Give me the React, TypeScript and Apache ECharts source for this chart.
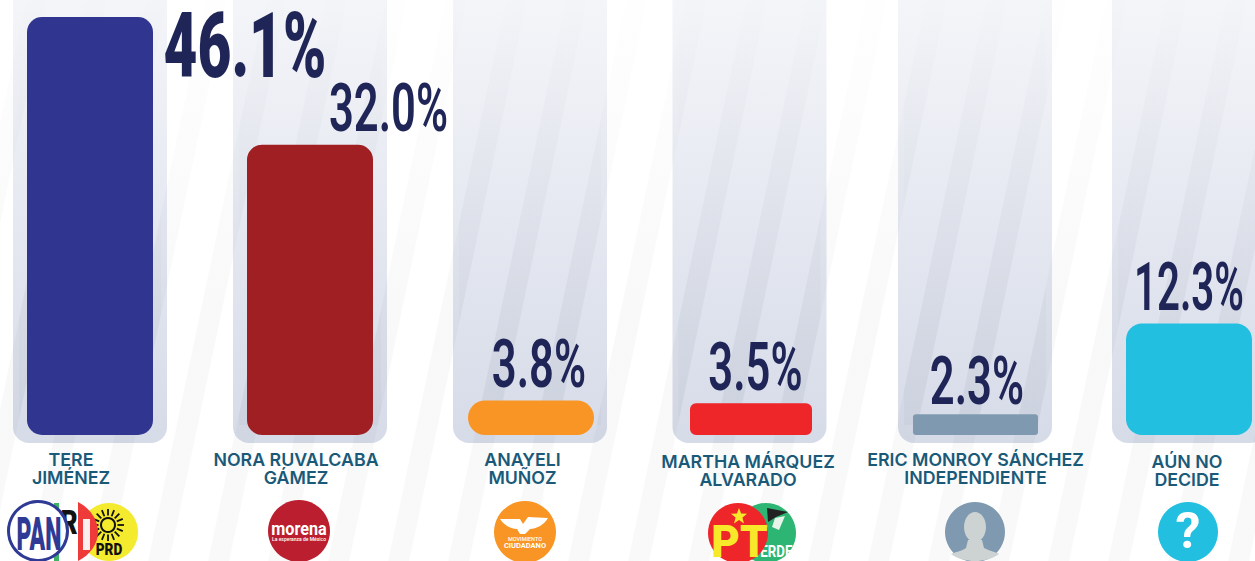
import React, { useEffect, useRef } from "react";
import * as echarts from "echarts";

const categories = [
  "TERE\nJIMÉNEZ",
  "NORA RUVALCABA\nGÁMEZ",
  "ANAYELI\nMUÑOZ",
  "MARTHA MÁRQUEZ\nALVARADO",
  "ERIC MONROY SÁNCHEZ\nINDEPENDIENTE",
  "AÚN NO\nDECIDE",
];
const values = [46.1, 32.0, 3.8, 3.5, 2.3, 12.3];
const barColors = ["#303590", "#9f1f23", "#f99524", "#ee2529", "#7f9ab0", "#22bfe0"];

// layout of the six columns, in pixels
const barCenters = [90, 310, 531, 751, 975.5, 1189];
const barWidths = [126, 126, 126, 122, 125, 126];
const barRadii = [15, 15, 17, 6, 3, 16];
const panelLefts = [13, 233, 453, 672.5, 898, 1112];
const nameShifts = [-19, -14, -8.5, -3, 0, -2];
const nameMargins = [15, 15, 15, 17, 15, 17];
const labelLook = [
  { dx: 155, dy: 30, size: 90, weight: 900, sx: 0.65 },
  { dx: 78.5, dy: -36, size: 67, weight: 600, sx: 0.65 },
  { dx: 8, dy: -36.5, size: 67, weight: 600, sx: 0.65 },
  { dx: 4.5, dy: -36, size: 67, weight: 600, sx: 0.65 },
  { dx: 1.5, dy: -33, size: 67, weight: 600, sx: 0.65 },
  { dx: 0, dy: -36.5, size: 67, weight: 600, sx: 0.6 },
];

const BASE_Y = 435;
const TOP_Y = 17;
const INK = "#1f2557";
const NAME_INK = "#1a5a78";
const FONT = "Roboto";

echarts.graphic.registerShape(
  "priRed",
  echarts.graphic.extendPath("M78 502 C90 508 98 520 98 532 C98 544 90 555 78 561 Z", {})
);
echarts.graphic.registerShape(
  "mcWings",
  echarts.graphic.extendPath(
    "M500 519 L520 519 L523 524 L528 517 L548 518 C544 525 536 529 530 529 L525 534 L520 534 L517 529 C510 529 504 525 500 519 Z",
    {}
  )
);
echarts.graphic.registerShape(
  "avatarBody",
  echarts.graphic.extendPath(
    "M968 540 L982 540 L984 548 C990 551 996 552 999 554 C992 559 984 561 975 561 C966 561 958 559 951 554 C955 552 962 551 966 548 Z",
    {}
  )
);

const txt = (
  text: string,
  x: number,
  y: number,
  size: number,
  fill: string,
  weight: number,
  scaleX = 1
) => ({
  type: "text",
  x,
  y,
  scaleX,
  z: 4,
  silent: true,
  style: {
    text,
    fill,
    fontFamily: FONT,
    fontSize: size,
    fontWeight: weight,
    lineHeight: Math.round(size * 0.72),
    align: "center",
    verticalAlign: "middle",
  },
});
const disc = (cx: number, cy: number, r: number, fill: string, extra: any = {}) => ({
  type: "circle",
  z: 4,
  silent: true,
  shape: { cx, cy, r },
  style: { fill, ...extra },
});

function clipX(points: number[][], limit: number, keepRight: boolean) {
  const inside = (p: number[]) => (keepRight ? p[0] >= limit : p[0] <= limit);
  const out: number[][] = [];
  points.forEach((p, i) => {
    const q = points[(i + 1) % points.length];
    if (inside(p)) out.push(p);
    if (inside(p) !== inside(q)) {
      const t = (limit - p[0]) / (q[0] - p[0]);
      out.push([limit, p[1] + t * (q[1] - p[1])]);
    }
  });
  return out;
}

function backdrop() {
  const out: any[] = [];
  panelLefts.forEach((left) => {
    out.push({
      type: "rect",
      z: 0,
      silent: true,
      shape: { x: left, y: -30, width: 154, height: 473, r: [0, 0, 16, 16] },
      style: {
        fill: new echarts.graphic.LinearGradient(0, 0, 0, 1, [
          { offset: 0, color: "#f6f7fa" },
          { offset: 1, color: "#d6dbe8" },
        ]),
      },
    });
  });
  const faint = new echarts.graphic.LinearGradient(0, 0, 0, 1, [
    { offset: 0, color: "rgba(40,50,60,0.004)" },
    { offset: 0.6, color: "rgba(40,50,60,0.032)" },
    { offset: 1, color: "rgba(40,50,60,0.03)" },
  ]);
  for (let k = -9; k <= 13; k++) {
    const top = 566 + 60 * k;
    const at = (y: number) => top - 0.21 * y;
    out.push({
      type: "polygon",
      z: 0,
      silent: true,
      shape: {
        points: [
          [at(0), 0],
          [at(0) + 21, 0],
          [at(561) + 21, 561],
          [at(561), 561],
        ],
      },
      style: { fill: faint },
    });
    panelLefts.forEach((left) => {
      let pts = [
        [at(0), 0],
        [at(0) + 21, 0],
        [at(425) + 21, 425],
        [at(425), 425],
      ];
      pts = clipX(pts, left + 6, true);
      if (pts.length) pts = clipX(pts, left + 148, false);
      if (pts.length < 3) return;
      const ys = pts.map((p) => p[1]);
      const y0 = Math.min(...ys);
      const y1 = Math.max(...ys);
      const alphaAt = (y: number) => (0.03 * y) / 425;
      out.push({
        type: "polygon",
        z: 0,
        silent: true,
        shape: { points: pts },
        style: {
          fill: new echarts.graphic.LinearGradient(0, 0, 0, 1, [
            { offset: 0, color: `rgba(40,50,90,${alphaAt(y0).toFixed(4)})` },
            { offset: 1, color: `rgba(40,50,90,${alphaAt(y1).toFixed(4)})` },
          ]),
        },
      });
    });
  }
  return out;
}

function logos() {
  const sun: any[] = [];
  for (let i = 0; i < 16; i++) {
    const a = (i / 16) * Math.PI * 2;
    sun.push({
      type: "line",
      z: 4,
      silent: true,
      shape: {
        x1: 108 + Math.cos(a) * 9.5,
        y1: 525 + Math.sin(a) * 9.5,
        x2: 108 + Math.cos(a) * 16,
        y2: 525 + Math.sin(a) * 16,
      },
      style: { stroke: "#111", lineWidth: 1.8 },
    });
  }
  return [
    // PAN · PRI · PRD
    disc(109, 532, 29, "#f4ea2e"),
    ...sun,
    disc(108, 525, 7, "none", { stroke: "#111", lineWidth: 2 }),
    txt("PRD", 109, 549, 17, "#111", 900, 0.8),
    { type: "rect", z: 4, silent: true, shape: { x: 54, y: 503, width: 5, height: 58 }, style: { fill: "#3fb265" } },
    txt("R", 69, 522, 33, "#111", 900, 0.8),
    { type: "priRed", z: 4, silent: true, style: { fill: "#ee3b3a" } },
    { type: "rect", z: 4, silent: true, shape: { x: 83, y: 519, width: 7, height: 31 }, style: { fill: "#fbeeee" } },
    disc(38, 531, 29.5, "#ffffff", { stroke: "#2e3a94", lineWidth: 3 }),
    txt("PAN", 39, 534, 46, "#2e3a94", 900, 0.5),
    // morena
    disc(299, 531, 31, "#bb1f2f"),
    txt("morena", 299, 529, 18, "#ffffff", 700, 0.9),
    txt("La esperanza de México", 299, 538.5, 5, "#ffffff", 500),
    // Movimiento Ciudadano
    disc(525, 532, 31, "#f99524"),
    { type: "mcWings", z: 4, silent: true, style: { fill: "#ffffff" } },
    txt("MOVIMIENTO", 525, 539, 5.5, "#ffffff", 500),
    txt("CIUDADANO", 525, 545.5, 7.5, "#ffffff", 700),
    // Verde · PT
    disc(766, 533, 30, "#2db573"),
    { type: "polygon", z: 4, silent: true, shape: { points: [[767, 508], [788, 512], [776, 517], [768, 522]] }, style: { fill: "#222" } },
    { type: "polygon", z: 4, silent: true, shape: { points: [[775, 518], [785, 516], [779, 530], [772, 527]] }, style: { fill: "#e6f4ea" } },
    txt("VERDE", 772, 551, 17, "#ffffff", 700, 0.78),
    disc(738, 533, 30, "#ee2529"),
    {
      type: "polygon",
      z: 4,
      silent: true,
      shape: {
        points: Array.from({ length: 10 }, (_, i) => {
          const r = i % 2 ? 3.6 : 8.5;
          const a = -Math.PI / 2 + (i * Math.PI) / 5;
          return [739 + r * Math.cos(a), 516.5 + r * Math.sin(a)];
        }),
      },
      style: { fill: "#f7e92a" },
    },
    txt("PT", 739.5, 542, 44, "#f7e92a", 900, 1),
    // independiente
    disc(975, 532, 30, "#7f9ab0"),
    { type: "ellipse", z: 4, silent: true, shape: { cx: 975, cy: 527, rx: 11, ry: 15 }, style: { fill: "#cdd2d2" } },
    { type: "avatarBody", z: 4, silent: true, style: { fill: "#cdd2d2" } },
    // no decide
    disc(1188, 532, 30, "#22bfe0"),
    txt("?", 1188, 531, 50, "#ffffff", 700),
  ];
}

export default function App() {
  const ref = useRef<HTMLDivElement>(null);
  useEffect(() => {
    document.body.style.margin = "0";
    const chart = echarts.init(ref.current!, null, { renderer: "svg" });
    const grid: any[] = [];
    const xAxis: any[] = [];
    const yAxis: any[] = [];
    const series: any[] = [];
    categories.forEach((name, i) => {
      grid.push({
        left: barCenters[i] - 65,
        width: 130,
        top: TOP_Y,
        height: BASE_Y - TOP_Y,
      });
      xAxis.push({
        type: "category",
        gridIndex: i,
        data: [name],
        axisLine: { show: false },
        axisTick: { show: false },
        axisLabel: {
          interval: 0,
          margin: nameMargins[i],
          color: NAME_INK,
          fontFamily: "Inter",
          fontWeight: 600,
          fontSize: 17.8,
          lineHeight: 18.5,
          padding:
            nameShifts[i] < 0 ? [0, -2 * nameShifts[i], 0, 0] : [0, 0, 0, 0],
        },
      });
      yAxis.push({ type: "value", gridIndex: i, min: 0, max: 46.1, show: false });
      series.push({
        type: "bar",
        xAxisIndex: i,
        yAxisIndex: i,
        barWidth: barWidths[i],
        silent: true,
        itemStyle: { color: barColors[i], borderRadius: barRadii[i] },
        data: [values[i]],
      });
      const look = labelLook[i];
      series.push({
        type: "custom",
        xAxisIndex: i,
        yAxisIndex: i,
        silent: true,
        z: 5,
        encode: { x: 0, y: 1 },
        data: [[0, values[i]]],
        renderItem: (_p: any, api: any) => {
          const v = api.value(1);
          const c = api.coord([0, v]);
          return {
            type: "text",
            x: c[0] + look.dx,
            y: c[1] + look.dy,
            scaleX: look.sx,
            style: {
              text: v.toFixed(1) + "%",
              fill: INK,
              fontFamily: FONT,
              fontSize: look.size,
              fontWeight: look.weight,
              lineHeight: Math.round(look.size * 0.8),
              align: "center",
              verticalAlign: "middle",
            },
          };
        },
      });
    });
    chart.setOption({
      animation: false,
      backgroundColor: "#ffffff",
      tooltip: { show: false },
      graphic: { elements: [...backdrop(), ...logos()] },
      grid,
      xAxis,
      yAxis,
      series,
    });
    return () => chart.dispose();
  }, []);
  return (
    <div
      ref={ref}
      style={{ position: "fixed", left: 0, top: 0, width: 1255, height: 561 }}
    />
  );
}
